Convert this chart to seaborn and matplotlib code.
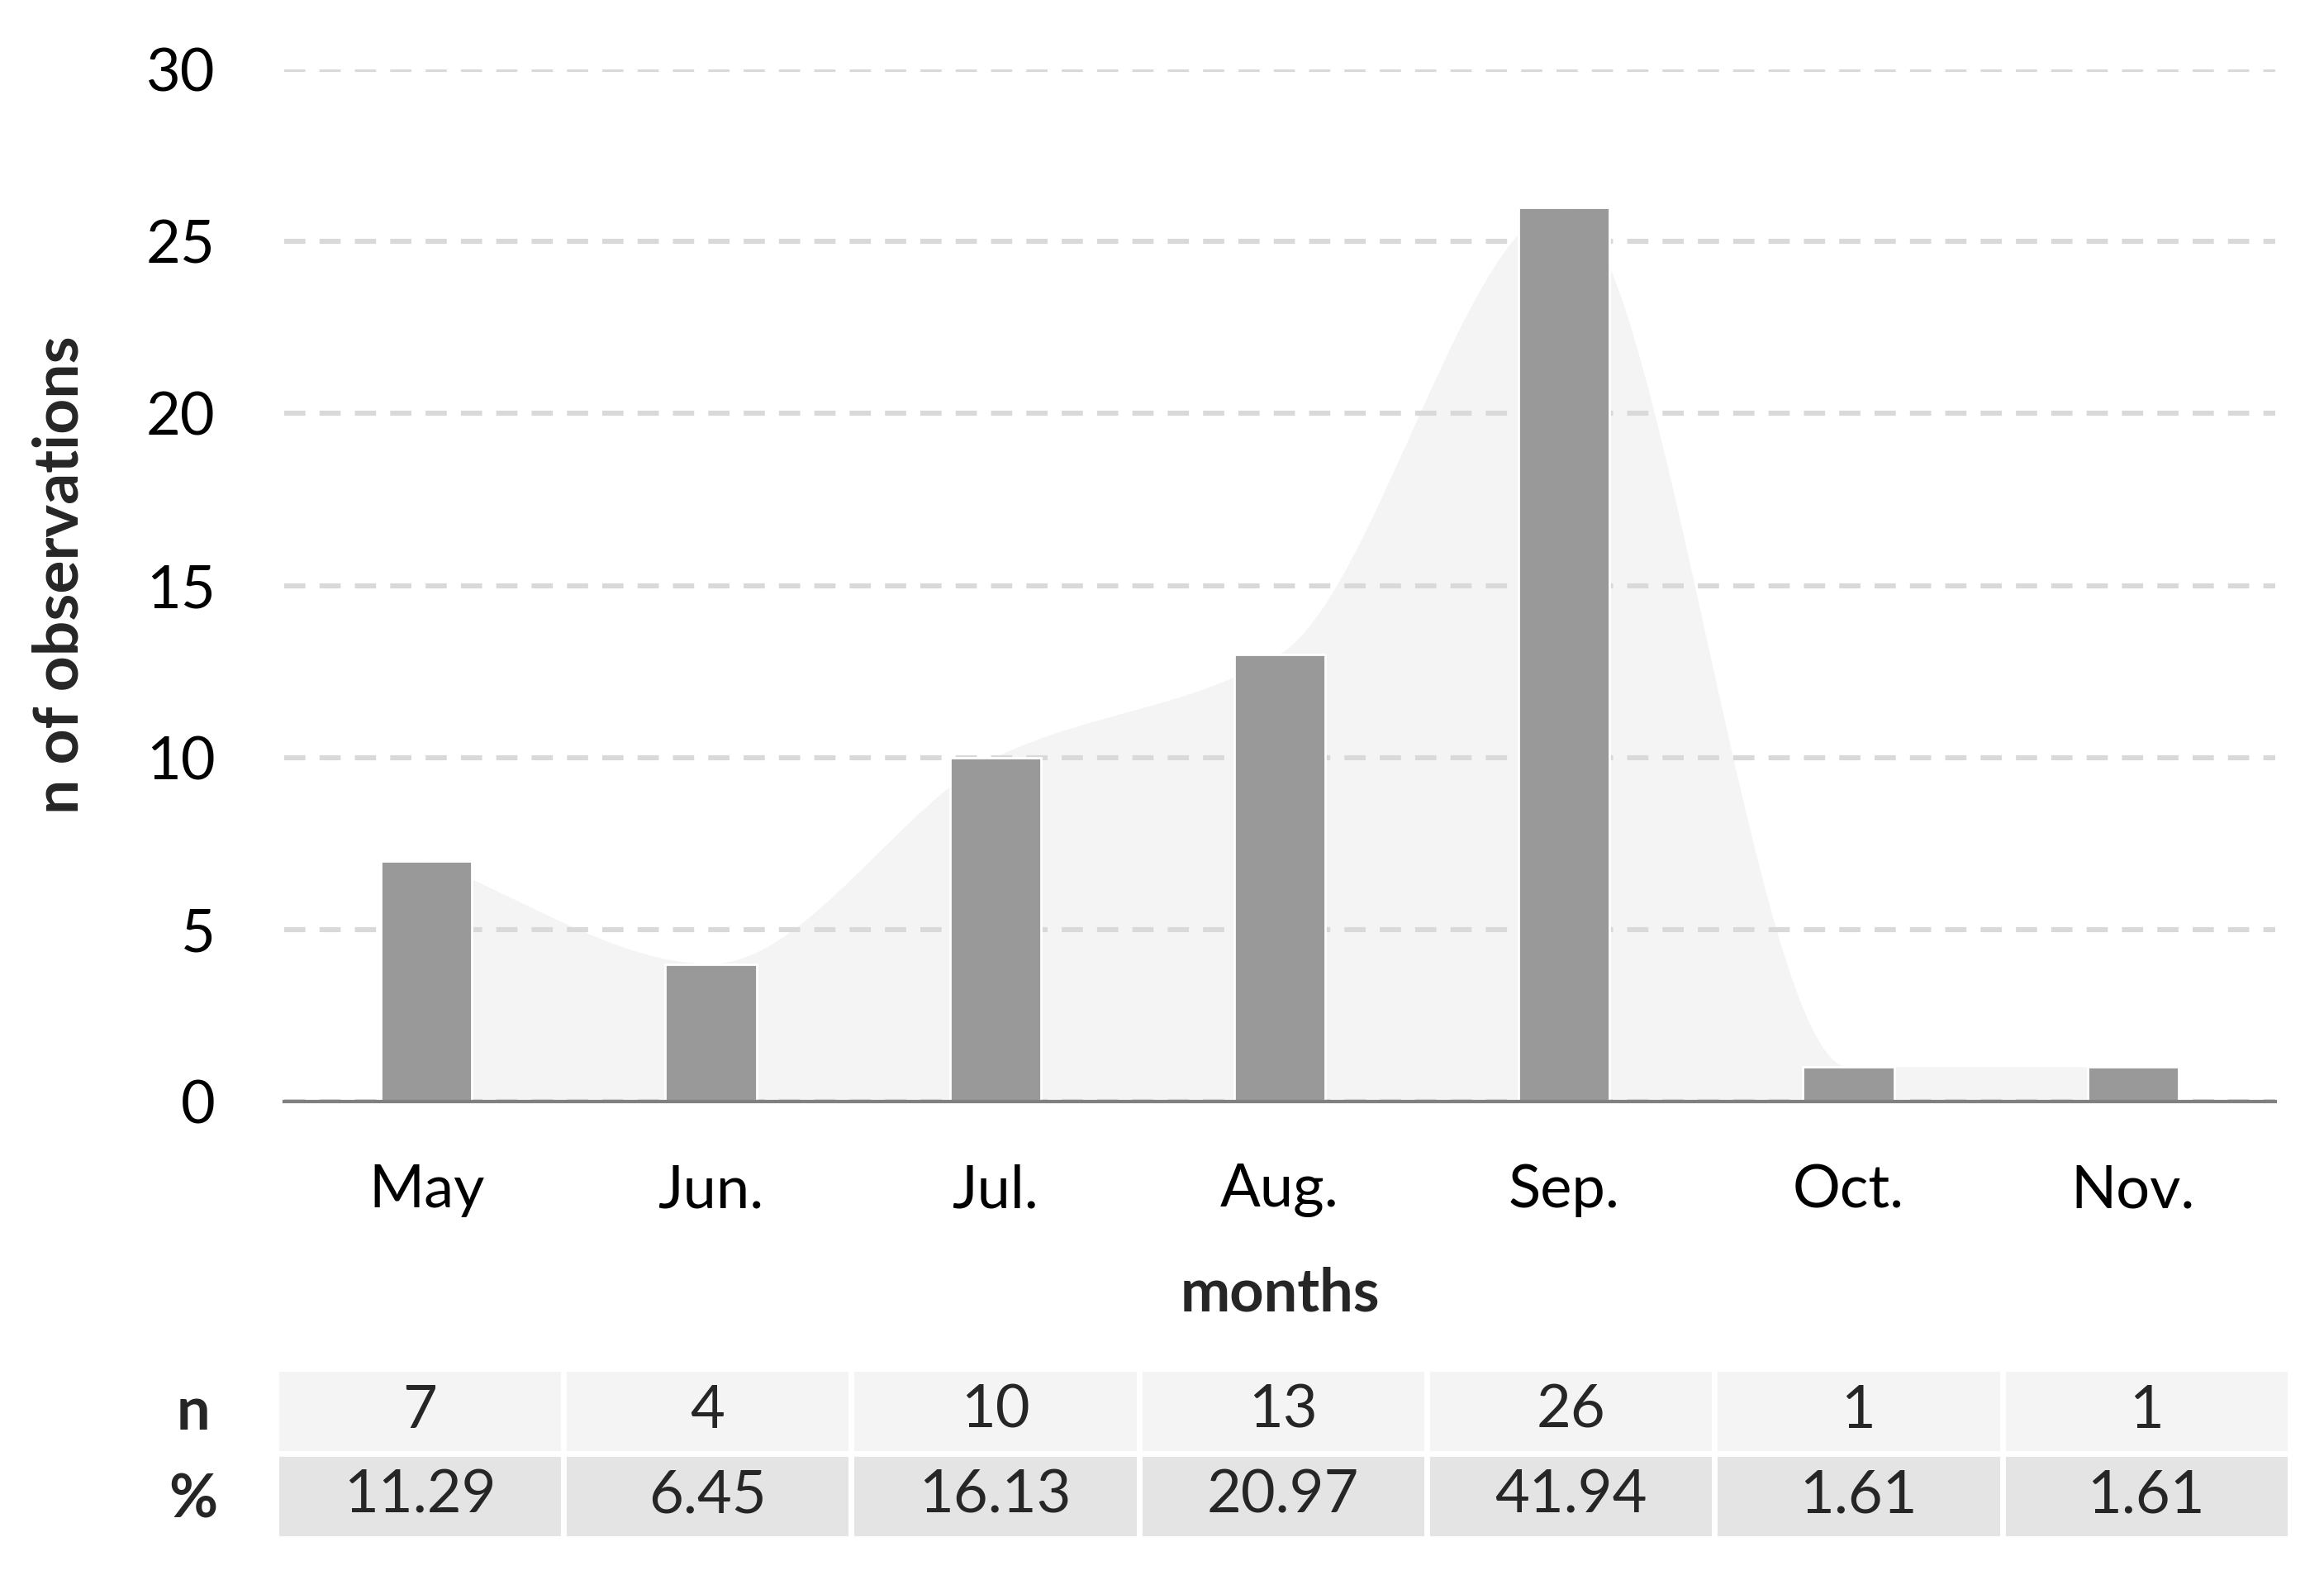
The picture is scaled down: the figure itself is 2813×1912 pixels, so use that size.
import numpy as np
import pandas as pd
import matplotlib
matplotlib.use("Agg")
import matplotlib.pyplot as plt
from matplotlib.path import Path
from matplotlib.patches import PathPatch
import seaborn as sns

MONTHS = ["May", "Jun.", "Jul.", "Aug.", "Sep.", "Oct.", "Nov."]
COUNTS = [7, 4, 10, 13, 26, 1, 1]
PERCENTS = ["11.29", "6.45", "16.13", "20.97", "41.94", "1.61", "1.61"]
Y_TICKS = [0, 5, 10, 15, 20, 25, 30]

BAR_COLOR = "#999999"
AREA_COLOR = "#f4f4f4"
GRID_COLOR = "#d9d9d9"
ROW_N_COLOR = "#f4f4f4"
ROW_PCT_COLOR = "#e4e4e4"


def smooth_area_path(values):
    # monotone cubic (Fritsch-Carlson) tangents, drawn as bezier segments
    y = np.asarray(values, dtype=float)
    x = np.arange(len(y), dtype=float)
    d = np.diff(y)
    m = np.zeros_like(y)
    m[0] = d[0]
    m[-1] = d[-1]
    for k in range(1, len(y) - 1):
        if d[k - 1] * d[k] > 0:
            m[k] = 2.0 / (1.0 / d[k - 1] + 1.0 / d[k])
    verts = [(x[0], 0.0), (x[0], y[0])]
    codes = [Path.MOVETO, Path.LINETO]
    for k in range(len(y) - 1):
        verts += [
            (x[k] + 1 / 3, y[k] + m[k] / 3),
            (x[k + 1] - 1 / 3, y[k + 1] - m[k + 1] / 3),
            (x[k + 1], y[k + 1]),
        ]
        codes += [Path.CURVE4] * 3
    verts += [(x[-1], 0.0), (x[0], 0.0)]
    codes += [Path.LINETO, Path.CLOSEPOLY]
    return Path(verts, codes)


sns.set_style("white")
plt.rcParams["font.family"] = ["Lato", "DejaVu Sans"]

df = pd.DataFrame({"month": MONTHS, "n": COUNTS})

fig = plt.figure(figsize=(14.065, 9.56), dpi=200)
ax = fig.add_axes([0.1223, 0.3028, 0.8567, 0.6532])

ax.add_patch(PathPatch(smooth_area_path(COUNTS), facecolor=AREA_COLOR,
                       edgecolor="none", zorder=0.3))

sns.barplot(data=df, x="month", y="n", color=BAR_COLOR, saturation=1,
            width=0.32, ax=ax, zorder=2)

ax.set_xlim(-0.5, 6.5)
ax.set_ylim(0, 30)
ax.set_yticks(Y_TICKS)
ax.set_axisbelow(True)
ax.yaxis.grid(True, color=GRID_COLOR, linewidth=2.2, linestyle=(0, (4.2, 2.8)))
ax.xaxis.grid(False)

for side in ["top", "right", "left"]:
    ax.spines[side].set_visible(False)
ax.spines["bottom"].set_color("#808080")
ax.spines["bottom"].set_linewidth(1.5)
ax.spines["bottom"].set_zorder(3)

ax.tick_params(axis="both", length=0, labelsize=26, colors="black")
ax.tick_params(axis="y", pad=30)
ax.tick_params(axis="x", pad=27)

ax.set_xlabel("months", fontsize=26, fontweight="bold")
ax.set_ylabel("n of observations", fontsize=27, fontweight="bold")
ax.xaxis.set_label_coords(0.5, -0.16)
ax.yaxis.set_label_coords(-0.098, 0.51)

# summary table below the chart
ax_t = fig.add_axes([0.1187, 0.0262, 0.8667, 0.1077])
ax_t.axis("off")
cell_text = [[str(v) for v in COUNTS], PERCENTS]
cell_colors = [[ROW_N_COLOR] * len(MONTHS), [ROW_PCT_COLOR] * len(MONTHS)]
tbl = ax_t.table(cellText=cell_text, cellColours=cell_colors,
                 cellLoc="center", bbox=[0, 0, 1, 1])
tbl.auto_set_font_size(False)
tbl.set_fontsize(26)
for cell in tbl.get_celld().values():
    cell.set_edgecolor("white")
    cell.set_linewidth(2.5)

fig.text(0.083, 0.106, "n", fontsize=26, fontweight="bold", ha="center", va="center")
fig.text(0.083, 0.050, "%", fontsize=26, fontweight="bold", ha="center", va="center")

fig.savefig("out.png", dpi=200)
plt.close(fig)
